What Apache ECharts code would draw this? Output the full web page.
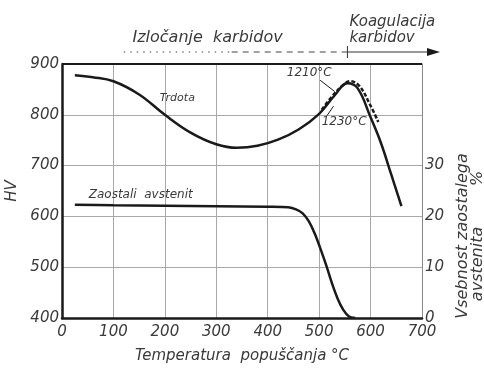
<!DOCTYPE html>
<html>
<head>
<meta charset="utf-8">
<script src="https://cdn.jsdelivr.net/npm/echarts@6/dist/echarts.min.js"></script>
<style>
  html, body { margin: 0; padding: 0; background: #fff; }
  #chart { width: 484px; height: 374px; }
</style>
</head>
<body>
<div id="chart"></div>
<script>
// Tempering temperature (°C) vs. hardness HV, quench from 1230 °C
const hardnessTemp = [25, 60, 100, 150, 200, 250, 300, 340, 380, 420, 460, 500, 530, 555, 575, 600, 620, 640, 660];
const hardnessHV   = [878, 874, 866, 840, 800, 765, 742, 735, 739, 751, 771, 802, 838, 862, 852, 795, 745, 683, 620];

// Hardness after quench from 1210 °C (dashed, only around the secondary peak)
const hardness1210Temp = [505, 525, 545, 560, 578, 598, 615];
const hardness1210HV   = [810, 836, 857, 866, 857, 822, 786];

// Retained austenite content (%)
const austeniteTemp = [25, 100, 200, 300, 400, 440, 455, 468, 480, 492, 503, 514, 525, 536, 547, 558, 570];
const austenitePct  = [22.3, 22.2, 22.1, 22.0, 21.9, 21.8, 21.4, 20.6, 19.0, 16.5, 13.5, 10.3, 6.8, 3.8, 1.6, 0.3, 0];

const xTicks = [0, 100, 200, 300, 400, 500, 600, 700];
const hvTicks = [400, 500, 600, 700, 800, 900];
const pctTicks = [0, 10, 20, 30];

const FONT = '"DejaVu Sans", sans-serif';
const INK = '#1a1a1a';
const LABEL = '#3a3a3a';
const GRID = '#a8a8a8';

const zip = (a, b) => a.map((v, i) => [v, b[i]]);

const chart = echarts.init(document.getElementById('chart'));

const option = {
  animation: false,
  backgroundColor: '#fff',
  grid: { left: 62, right: 62, top: 64, bottom: 56, outerBoundsMode: 'none', containLabel: false },
  xAxis: {
    type: 'value',
    min: xTicks[0], max: xTicks[xTicks.length - 1], interval: 100,
    name: 'Temperatura  popuščanja °C',
    nameLocation: 'middle', nameGap: 31,
    nameTextStyle: { fontFamily: FONT, fontStyle: 'italic', fontSize: 15, color: LABEL },
    axisLine: { show: true, lineStyle: { color: INK, width: 2.5 } },
    axisTick: { show: false },
    axisLabel: { fontFamily: FONT, fontStyle: 'italic', fontSize: 15, color: LABEL, margin: 7 },
    splitLine: { show: true, lineStyle: { color: GRID, width: 1 } }
  },
  yAxis: [
    {
      type: 'value', position: 'left',
      min: hvTicks[0], max: hvTicks[hvTicks.length - 1], interval: 100,
      name: 'HV', nameLocation: 'middle', nameGap: 40, nameRotate: 90,
      nameTextStyle: { fontFamily: FONT, fontStyle: 'italic', fontSize: 15, color: LABEL },
      axisLine: { show: true, lineStyle: { color: INK, width: 2.5 } },
      axisTick: { show: false },
      axisLabel: { fontFamily: FONT, fontStyle: 'italic', fontSize: 15, color: LABEL, margin: 3 },
      splitLine: { show: true, lineStyle: { color: GRID, width: 1 } }
    },
    {
      type: 'value', position: 'right',
      min: 0, max: 50, interval: 10,
      name: 'Vsebnost zaostalega\navstenita        %',
      nameLocation: 'middle', nameGap: 32, nameRotate: 90,
      nameTextStyle: { fontFamily: FONT, fontStyle: 'italic', fontSize: 16, color: LABEL, lineHeight: 15, padding: [0, 90, 0, 0] },
      axisLine: { show: true, lineStyle: { color: '#888', width: 1 } },
      axisTick: { show: false },
      axisLabel: {
        fontFamily: FONT, fontStyle: 'italic', fontSize: 15, color: LABEL, margin: 3,
        formatter: v => (pctTicks.indexOf(v) >= 0 ? String(v) : '')
      },
      splitLine: { show: false }
    }
  ],
  series: [
    {
      name: 'Trdota',
      type: 'line', yAxisIndex: 0,
      data: zip(hardnessTemp, hardnessHV),
      smooth: 0.4, showSymbol: false,
      lineStyle: { color: INK, width: 2.5 }
    },
    {
      name: 'Trdota 1210 °C',
      type: 'line', yAxisIndex: 0,
      data: zip(hardness1210Temp, hardness1210HV),
      smooth: 0.4, showSymbol: false,
      lineStyle: { color: INK, width: 2.5, type: [4, 2] }
    },
    {
      name: 'Zaostali avstenit',
      type: 'line', yAxisIndex: 1,
      data: zip(austeniteTemp, austenitePct),
      smooth: 0.3, showSymbol: false,
      lineStyle: { color: INK, width: 2.5 }
    }
  ]
};

chart.setOption(option);

// Annotations placed in data coordinates
const px = (t, v, axis) => chart.convertToPixel({ xAxisIndex: 0, yAxisIndex: axis || 0 }, [t, v]);
const txt = (p, s, size, align) => ({
  type: 'text', x: p[0], y: p[1],
  style: {
    text: s, fontFamily: FONT, fontStyle: 'italic', fontSize: size || 12,
    fill: LABEL, align: align || 'left', verticalAlign: 'middle'
  }
});
const seg = (a, b, extra) => ({
  type: 'line',
  shape: { x1: a[0], y1: a[1], x2: b[0], y2: b[1] },
  style: Object.assign({ stroke: INK, lineWidth: 1 }, extra || {})
});

const pTop = chart.getModel().getComponent('grid').coordinateSystem.getRect();
const arrowY = pTop.y - 12;
const aStart = px(120, 900)[0];
const aMid = px(330, 900)[0];
const aTick = px(555, 900)[0];
const aEnd = px(735, 900)[0];

const graphics = [
  txt(px(190, 833), 'Trdota', 11),
  txt(px(52, 24.2, 1), 'Zaostali  avstenit', 12),
  txt(px(437, 882), '1210°C', 12),
  seg(px(502, 868), px(530, 846)),
  txt(px(505, 786), '1230°C', 12),
  seg(px(515, 798), px(528, 817)),

  // process annotation across the top
  txt([(aStart + aTick) / 2 - 28, pTop.y - 26], 'Izločanje  karbidov', 16, 'center'),
  txt([aTick + 2, pTop.y - 42], 'Koagulacija', 15),
  txt([aTick + 2, pTop.y - 26], 'karbidov', 15),
  seg([aStart, arrowY], [aMid, arrowY], { lineDash: [1.5, 5], stroke: '#444' }),
  seg([aMid, arrowY], [aTick, arrowY], { lineDash: [6, 5], stroke: '#444' }),
  seg([aTick, arrowY], [aEnd - 10, arrowY], { stroke: '#333' }),
  seg([aTick, arrowY - 6], [aTick, arrowY + 6], { stroke: '#333' }),
  {
    type: 'polygon',
    shape: { points: [[aEnd, arrowY], [aEnd - 13, arrowY - 4], [aEnd - 13, arrowY + 4]] },
    style: { fill: INK }
  },
  // top frame
  seg([pTop.x, pTop.y], [pTop.x + pTop.width, pTop.y], { stroke: INK, lineWidth: 2 })
];

chart.setOption({ graphic: graphics });
</script>
</body>
</html>
